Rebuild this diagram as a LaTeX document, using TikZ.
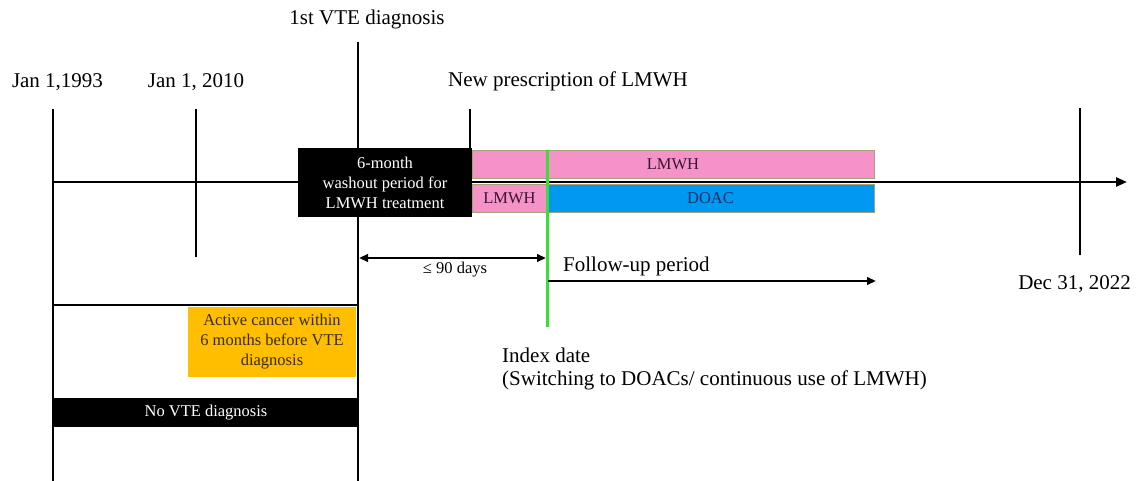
\documentclass[tikz,border=0pt]{standalone}
\usepackage{fontspec}
\setmainfont{Liberation Serif}
\usetikzlibrary{arrows.meta}
\definecolor{pinkbox}{HTML}{F592C8}
\definecolor{bluebox}{HTML}{0098F0}
\definecolor{orangebox}{HTML}{FFBF00}
\definecolor{greenline}{HTML}{3CDC3C}
\definecolor{boxedge}{HTML}{A8A078}
\definecolor{pinktext}{HTML}{3A1530}
\definecolor{bluetext}{HTML}{14306A}
\definecolor{orangetext}{HTML}{3A2A10}
\begin{document}
\begin{tikzpicture}[x=1pt,y=-1pt,
  tick/.style={line width=2.9pt},
  axisline/.style={line width=2.6pt,-{Triangle[length=11pt,width=9pt]}},
  big/.style={font=\fontsize{21}{23.5}\selectfont,inner sep=0pt},
  blackbox/.style={fill=black,text=white,inner sep=0pt,align=center,font=\fontsize{16.5}{20}\selectfont},
  colbox/.style={draw=boxedge,line width=0.8pt,inner sep=0pt,font=\fontsize{16.5}{20}\selectfont},
  onearrow/.style={line width=2.2pt,-{Triangle[length=9pt,width=7.5pt]}},
  twoarrow/.style={line width=2.2pt,{Triangle[length=9pt,width=7.5pt]}-{Triangle[length=9pt,width=7.5pt]}}]
\useasboundingbox (0,0) rectangle (1138,481);

% tick coordinates
\coordinate (a1) at (53,109);   \coordinate (a2) at (53,481);
\coordinate (b1) at (196,109);  \coordinate (b2) at (196,257);
\coordinate (c1) at (358,42);   \coordinate (c2) at (358,481);
\coordinate (d1) at (470,109);  \coordinate (d2) at (470,150);
\coordinate (e1) at (1080,108); \coordinate (e2) at (1080,255);
\coordinate (t0) at (53,182);   \coordinate (tend) at (1127,182);
\coordinate (h1) at (53,305);   \coordinate (h2) at (358,305);
\coordinate (g1) at (547,150);  \coordinate (g2) at (547,327);
\coordinate (w1) at (359,258);  \coordinate (w2) at (546,258);
\coordinate (f1) at (548,281);  \coordinate (f2) at (876,281);

% lines
\draw[tick] (a1) -- (a2);
\draw[tick] (b1) -- (b2);
\draw[tick] (c1) -- (c2);
\draw[tick] (d1) -- (d2);
\draw[tick] (e1) -- (e2);
\draw[axisline] (t0) -- (tend);
\draw[line width=2.6pt] (h1) -- (h2);

% boxes
\node[blackbox,minimum width=174pt,minimum height=69pt] (wash) at (385,182.5) {6-month\\washout period for\\LMWH treatment};
\node[colbox,fill=pinkbox,text=pinktext,minimum width=402pt,minimum height=28.5pt] (lmwhtop) at (673,164.5) {LMWH};
\node[colbox,fill=pinkbox,text=pinktext,minimum width=75pt,minimum height=27.5pt] (lmwhlow) at (509.5,198.5) {LMWH};
\node[colbox,fill=bluebox,text=bluetext,minimum width=327pt,minimum height=27.5pt] (doac) at (710.5,198.5) {DOAC};
\node[fill=orangebox,inner sep=0pt,minimum width=168pt,minimum height=70pt,align=center,text=orangetext,font=\fontsize{16.5}{20}\selectfont] (cancer) at (272,342) {Active cancer within\\6 months before VTE\\diagnosis};
\node[blackbox,minimum width=304pt,minimum height=29pt] (novte) at (206,412.5) {No VTE diagnosis};

% green index line and arrows
\draw[greenline,line width=3pt] (g1) -- (g2);
\draw[twoarrow] (w1) -- (w2);
\draw[onearrow] (f1) -- (f2);

% labels
\node[big,anchor=base] (lvte) at (367,25) {1st VTE diagnosis};
\node[big,anchor=base] (l1993) at (57.5,88) {Jan 1,1993};
\node[big,anchor=base] (l2010) at (196,88) {Jan 1, 2010};
\node[big,anchor=base west] (lnew) at (448,87) {New prescription of LMWH};
\node[big,anchor=base east] (ldec) at (1131,289) {Dec 31, 2022};
\node[big,anchor=base west] (lfollow) at (563,272) {Follow-up period};
\node[inner sep=0pt,anchor=base,font=\fontsize{16.5}{19}\selectfont] (l90) at (455,273) {≤ 90 days};
\node[big,anchor=base west] (lindex) at (502,362) {Index date};
\node[big,anchor=base west] (lswitch) at (502,385) {(Switching to DOACs/ continuous use of LMWH)};
\end{tikzpicture}
\end{document}
